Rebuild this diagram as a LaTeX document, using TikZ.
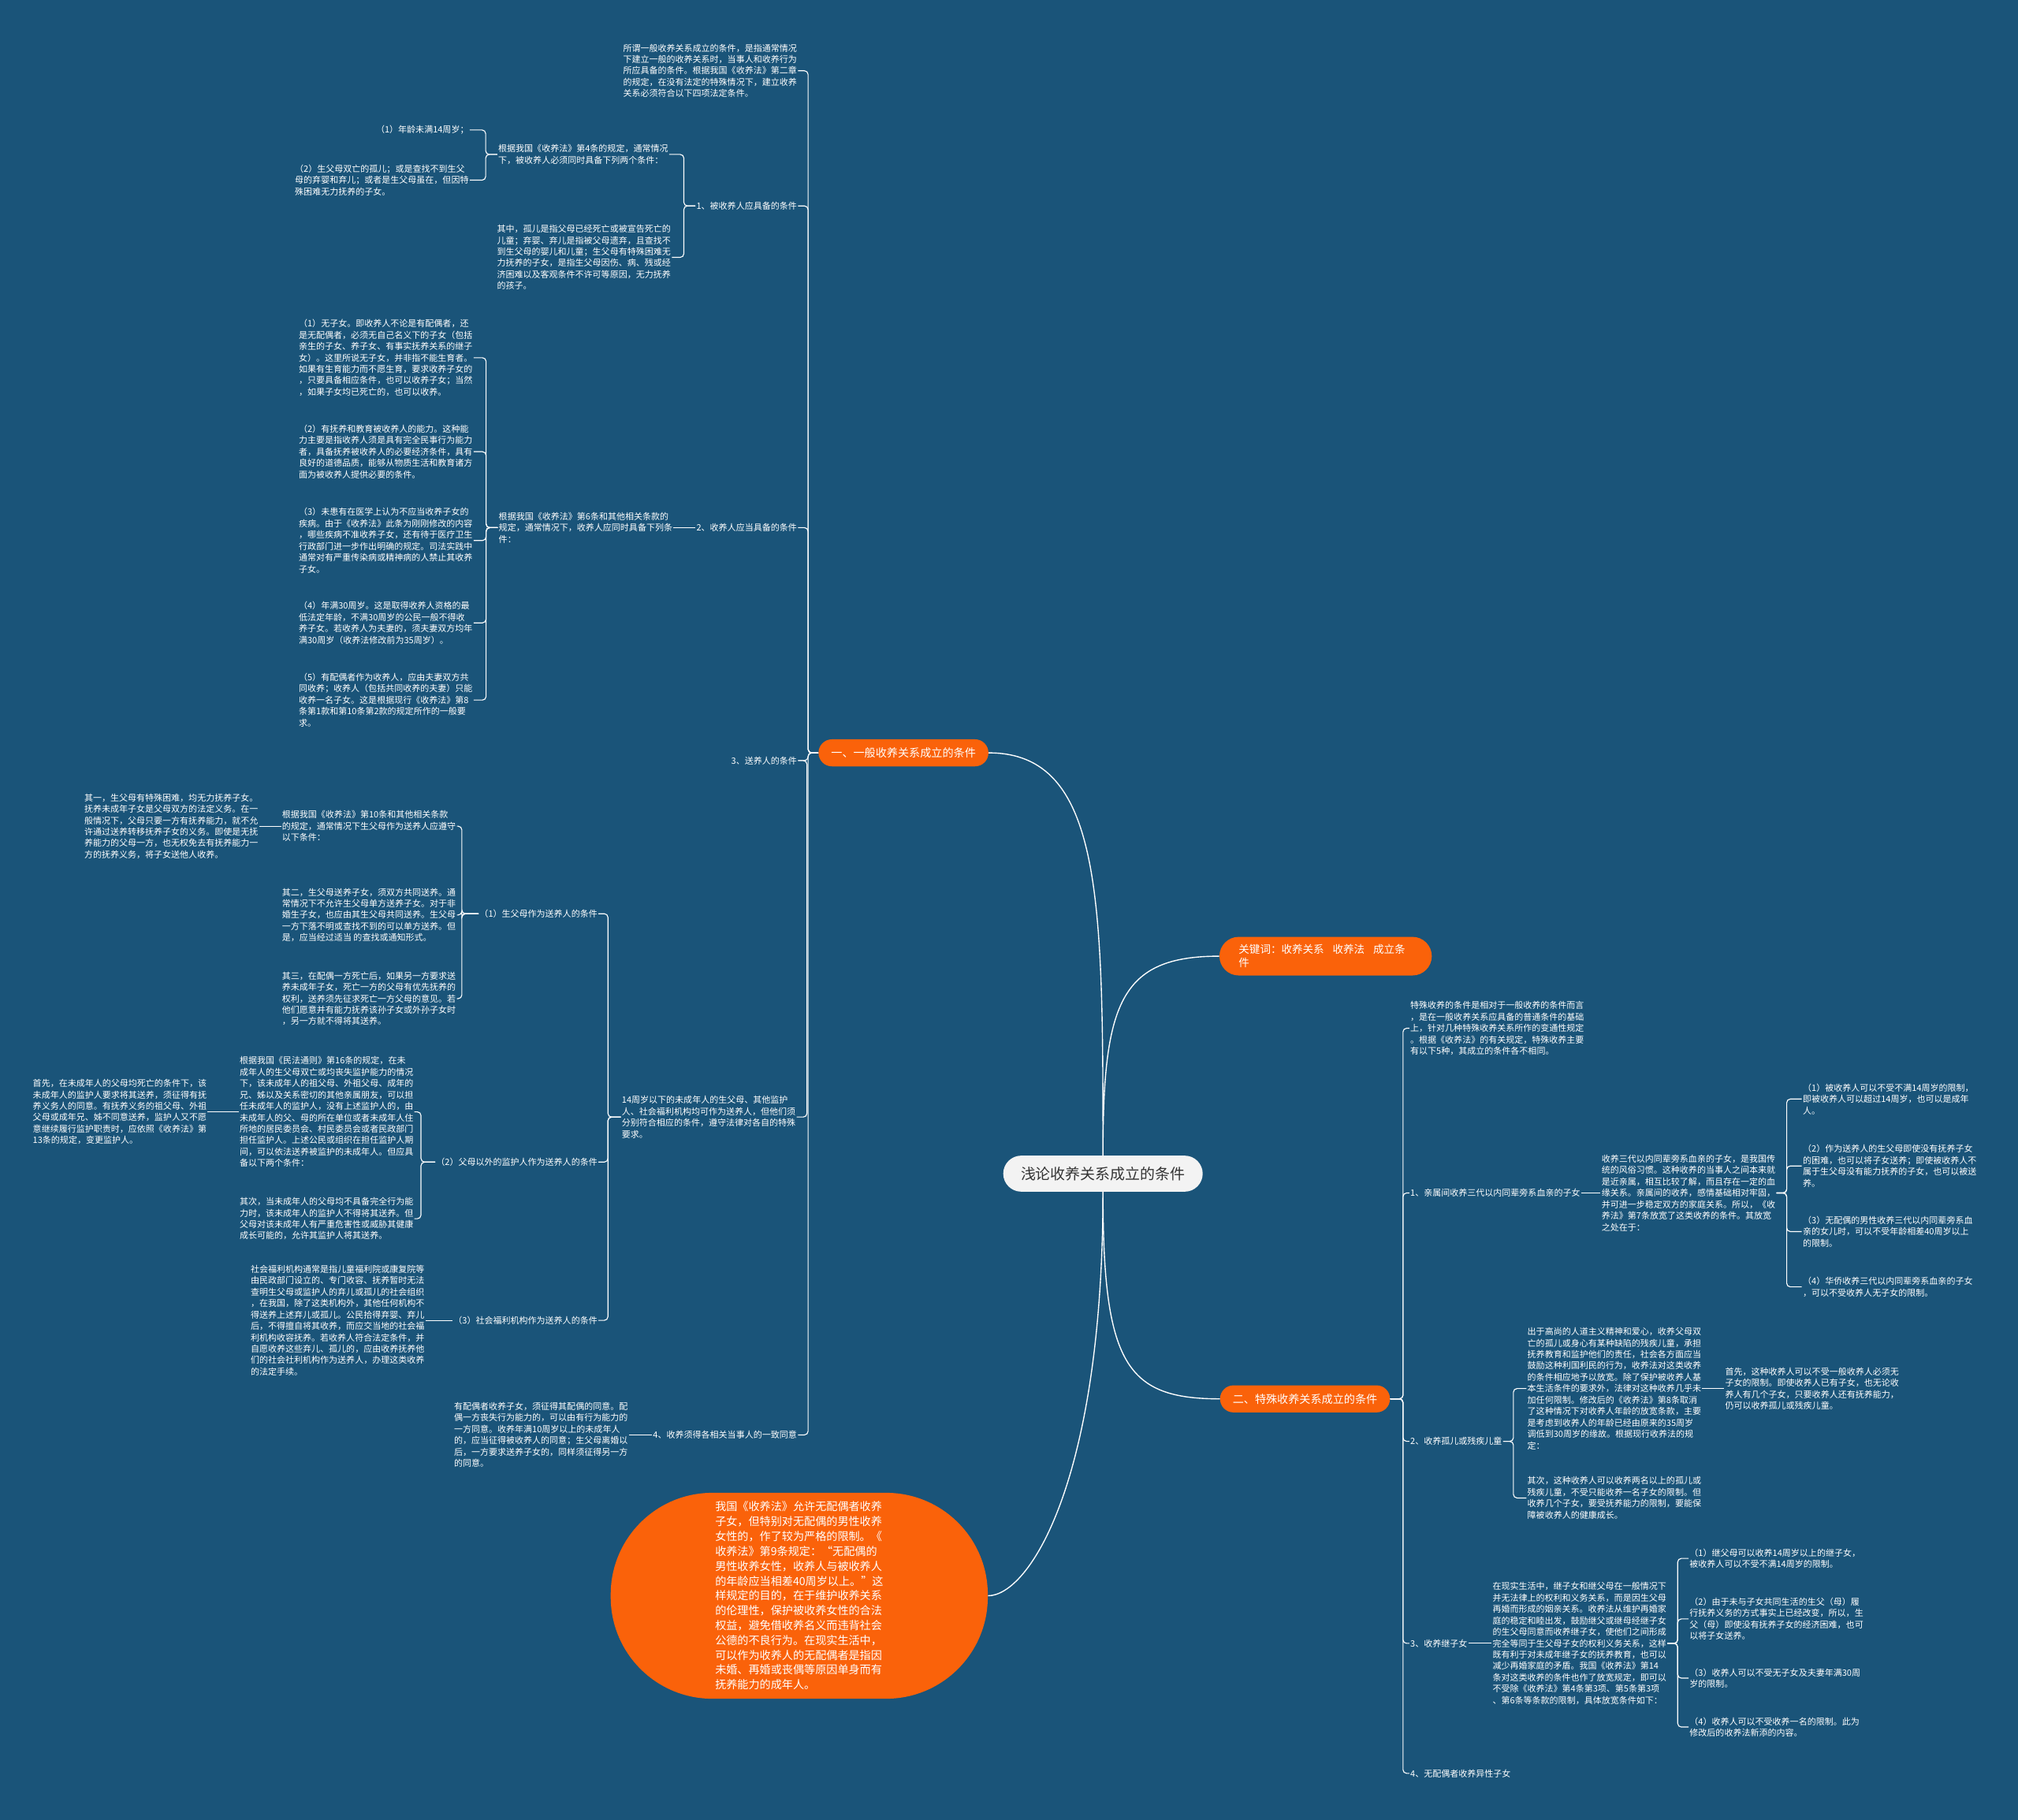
\documentclass[tikz,border=0pt]{standalone}
\usepackage{fontspec}
\setmainfont{Noto Sans CJK SC}
\usepackage{tikz}
\usetikzlibrary{positioning}
\definecolor{map-bg}{RGB}{26,84,121}
\definecolor{map-orange}{RGB}{250,98,10}
\definecolor{map-root}{RGB}{243,243,243}
\newcommand{\notefont}{\fontsize{9.6}{12.6}\selectfont}
\newcommand{\topicfont}{\fontsize{12.3}{15}\selectfont}

\begin{document}
\begin{tikzpicture}[
    x=0.05cm, y=-0.05cm,
    note/.style={align=left, text=white, font=\notefont, inner sep=1pt},
    lnote/.style={note, anchor=east},
    rnote/.style={note, anchor=west},
    topic/.style={rectangle, rounded corners=0.52cm, fill=map-orange, text=white, font=\topicfont, minimum width=6.6cm, minimum height=1.05cm},
    link/.style={draw=white, line width=1pt, rounded corners=4pt},
    branch/.style={draw=white, line width=1.2pt}
]

% 背景
\fill[map-bg] (0,0) rectangle (1568,1414);

% 中心与主分支
\node[rectangle, rounded corners=0.7cm, fill=map-root, text=black!80, font=\fontsize{16.5}{20}\selectfont, minimum width=7.75cm, minimum height=1.4cm] (root) at (857,912) {浅论收养关系成立的条件};
\node[topic] (general) at (702,585) {一、一般收养关系成立的条件};
\node[topic, minimum width=8.25cm, minimum height=1.5cm, rounded corners=0.75cm, text width=6.75cm, inner xsep=0.75cm, align=left, font=\fontsize{11.8}{14.5}\selectfont] (keywords) at (1030,743) {关键词：收养关系\hspace{0.8em}收养法\hspace{0.8em}成立条\\件};
\node[topic] (special) at (1014,1087) {二、特殊收养关系成立的条件};
\node[fill=map-orange, text=white, rounded corners=3.95cm, minimum width=14.65cm, minimum height=8cm, align=left, inner sep=0pt, font=\fontsize{12.3}{16.4}\selectfont] (bubble) at (621,1240) {我国《收养法》允许无配偶者收养\\子女，但特别对无配偶的男性收养\\女性的，作了较为严格的限制。《\\收养法》第9条规定：“无配偶的\\男性收养女性，收养人与被收养人\\的年龄应当相差40周岁以上。”这\\样规定的目的，在于维护收养关系\\的伦理性，保护被收养女性的合法\\权益，避免借收养名义而违背社会\\公德的不良行为。在现实生活中，\\可以作为收养人的无配偶者是指因\\未婚、再婚或丧偶等原因单身而有\\抚养能力的成年人。};

% 一般收养
\node[lnote] (g-intro) at (620,55) {所谓一般收养关系成立的条件，是指通常情况\\下建立一般的收养关系时，当事人和收养行为\\所应具备的条件。根据我国《收养法》第二章\\的规定，在没有法定的特殊情况下，建立收养\\关系必须符合以下四项法定条件。};
\node[lnote] (adoptee) at (620,160) {1、被收养人应具备的条件};
\node[lnote] (adoptee-a) at (520,120) {根据我国《收养法》第4条的规定，通常情况\\下，被收养人必须同时具备下列两个条件：};
\node[lnote] (adoptee-a1) at (365,101) {（1）年龄未满14周岁；};
\node[lnote] (adoptee-a2) at (365,140) {（2）生父母双亡的孤儿；或是查找不到生父\\母的弃婴和弃儿；或者是生父母虽在，但因特\\殊困难无力抚养的子女。};
\node[lnote] (adoptee-b) at (522,200) {其中，孤儿是指父母已经死亡或被宣告死亡的\\儿童；弃婴、弃儿是指被父母遗弃，且查找不\\到生父母的婴儿和儿童；生父母有特殊困难无\\力抚养的子女，是指生父母因伤、病、残或经\\济困难以及客观条件不许可等原因，无力抚养\\的孩子。};

\node[lnote] (adopter) at (620,410) {2、收养人应当具备的条件};
\node[lnote, left=0.85cm of adopter] (adopter-a) {根据我国《收养法》第6条和其他相关条款的\\规定，通常情况下，收养人应同时具备下列条\\件：};
\node[lnote] (adopter-1) at (368,278) {（1）无子女。即收养人不论是有配偶者，还\\是无配偶者，必须无自己名义下的子女（包括\\亲生的子女、养子女、有事实抚养关系的继子\\女）。这里所说无子女，并非指不能生育者。\\如果有生育能力而不愿生育，要求收养子女的\\，只要具备相应条件，也可以收养子女；当然\\，如果子女均已死亡的，也可以收养。};
\node[lnote] (adopter-2) at (368,351) {（2）有抚养和教育被收养人的能力。这种能\\力主要是指收养人须是具有完全民事行为能力\\者，具备抚养被收养人的必要经济条件，具有\\良好的道德品质，能够从物质生活和教育诸方\\面为被收养人提供必要的条件。};
\node[lnote] (adopter-3) at (368,420) {（3）未患有在医学上认为不应当收养子女的\\疾病。由于《收养法》此条为刚刚修改的内容\\，哪些疾病不准收养子女，还有待于医疗卫生\\行政部门进一步作出明确的规定。司法实践中\\通常对有严重传染病或精神病的人禁止其收养\\子女。};
\node[lnote] (adopter-4) at (368,484) {（4）年满30周岁。这是取得收养人资格的最\\低法定年龄，不满30周岁的公民一般不得收\\养子女。若收养人为夫妻的，须夫妻双方均年\\满30周岁（收养法修改前为35周岁）。};
\node[lnote] (adopter-5) at (368,544) {（5）有配偶者作为收养人，应由夫妻双方共\\同收养；收养人（包括共同收养的夫妻）只能\\收养一名子女。这是根据现行《收养法》第8\\条第1款和第10条第2款的规定所作的一般要\\求。};

\node[lnote] (sender) at (620,591) {3、送养人的条件};
\node[lnote] (sender-a) at (619,868) {14周岁以下的未成年人的生父母、其他监护\\人、社会福利机构均可作为送养人，但他们须\\分别符合相应的条件，遵守法律对各自的特殊\\要求。};
\node[lnote] (parents) at (465,710) {（1）生父母作为送养人的条件};
\node[lnote] (parents-a) at (355,642) {根据我国《收养法》第10条和其他相关条款\\的规定，通常情况下生父母作为送养人应遵守\\以下条件：};
\node[lnote, left=0.85cm of parents-a] (parents-a1) {其一，生父母有特殊困难，均无力抚养子女。\\抚养未成年子女是父母双方的法定义务。在一\\般情况下，父母只要一方有抚养能力，就不允\\许通过送养转移抚养子女的义务。即使是无抚\\养能力的父母一方，也无权免去有抚养能力一\\方的抚养义务，将子女送他人收养。};
\node[lnote] (parents-b) at (355,711) {其二，生父母送养子女，须双方共同送养。通\\常情况下不允许生父母单方送养子女。对于非\\婚生子女，也应由其生父母共同送养。生父母\\一方下落不明或查找不到的可以单方送养。但\\是，应当经过适当 的查找或通知形式。};
\node[lnote] (parents-c) at (355,776) {其三，在配偶一方死亡后，如果另一方要求送\\养未成年子女，死亡一方的父母有优先抚养的\\权利，送养须先征求死亡一方父母的意见。若\\他们愿意并有能力抚养该孙子女或外孙子女时\\，另一方就不得将其送养。};

\node[lnote] (guardian) at (465,903) {（2）父母以外的监护人作为送养人的条件};
\node[lnote] (guardian-a) at (322,864) {根据我国《民法通则》第16条的规定，在未\\成年人的生父母双亡或均丧失监护能力的情况\\下，该未成年人的祖父母、外祖父母、成年的\\兄、姊以及关系密切的其他亲属朋友，可以担\\任未成年人的监护人，没有上述监护人的，由\\未成年人的父、母的所在单位或者未成年人住\\所地的居民委员会、村民委员会或者民政部门\\担任监护人。上述公民或组织在担任监护人期\\间，可以依法送养被监护的未成年人。但应具\\备以下两个条件：};
\node[lnote, left=1.2cm of guardian-a] (guardian-a1) {首先，在未成年人的父母均死亡的条件下，该\\未成年人的监护人要求将其送养，须征得有抚\\养义务人的同意。有抚养义务的祖父母、外祖\\父母或成年兄、姊不同意送养，监护人又不愿\\意继续履行监护职责时，应依照《收养法》第\\13条的规定，变更监护人。};
\node[lnote] (guardian-b) at (322,947) {其次，当未成年人的父母均不具备完全行为能\\力时，该未成年人的监护人不得将其送养。但\\父母对该未成年人有严重危害性或威胁其健康\\成长可能的，允许其监护人将其送养。};

\node[lnote] (welfare) at (465,1026) {（3）社会福利机构作为送养人的条件};
\node[lnote, left=1.05cm of welfare] (welfare-a) {社会福利机构通常是指儿童福利院或康复院等\\由民政部门设立的、专门收容、抚养暂时无法\\查明生父母或监护人的弃儿或孤儿的社会组织\\，在我国，除了这类机构外，其他任何机构不\\得送养上述弃儿或孤儿。公民拾得弃婴、弃儿\\后，不得擅自将其收养，而应交当地的社会福\\利机构收容抚养。若收养人符合法定条件，并\\自愿收养这些弃儿、孤儿的，应由收养抚养他\\们的社会社利机构作为送养人，办理这类收养\\的法定手续。};

\node[lnote] (consent) at (620,1115) {4、收养须得各相关当事人的一致同意};
\node[lnote, left=0.9cm of consent] (consent-a) {有配偶者收养子女，须征得其配偶的同意。配\\偶一方丧失行为能力的，可以由有行为能力的\\一方同意。收养年满10周岁以上的未成年人\\的，应当征得被收养人的同意；生父母离婚以\\后，一方要求送养子女的，同样须征得另一方\\的同意。};

% 特殊收养
\node[rnote] (s-intro) at (1095,799) {特殊收养的条件是相对于一般收养的条件而言\\，是在一般收养关系应具备的普通条件的基础\\上，针对几种特殊收养关系所作的变通性规定\\。根据《收养法》的有关规定，特殊收养主要\\有以下5种，其成立的条件各不相同。};
\node[rnote] (kin) at (1095,927) {1、亲属间收养三代以内同辈旁系血亲的子女};
\node[rnote, right=0.75cm of kin] (kin-a) {收养三代以内同辈旁系血亲的子女，是我国传\\统的风俗习惯。这种收养的当事人之间本来就\\是近亲属，相互比较了解，而且存在一定的血\\缘关系。亲属间的收养，感情基础相对牢固，\\并可进一步稳定双方的家庭关系。所以，《收\\养法》第7条放宽了这类收养的条件。其放宽\\之处在于：};
\node[rnote] (kin-1) at (1400,854) {（1）被收养人可以不受不满14周岁的限制，\\即被收养人可以超过14周岁，也可以是成年\\人。};
\node[rnote] (kin-2) at (1400,906) {（2）作为送养人的生父母即使没有抚养子女\\的困难，也可以将子女送养；即使被收养人不\\属于生父母没有能力抚养的子女，也可以被送\\养。};
\node[rnote] (kin-3) at (1400,957) {（3）无配偶的男性收养三代以内同辈旁系血\\亲的女儿时，可以不受年龄相差40周岁以上\\的限制。};
\node[rnote] (kin-4) at (1400,1000) {（4）华侨收养三代以内同辈旁系血亲的子女\\，可以不受收养人无子女的限制。};

\node[rnote] (orphan) at (1095,1120) {2、收养孤儿或残疾儿童};
\node[rnote] (orphan-a) at (1186,1079) {出于高尚的人道主义精神和爱心，收养父母双\\亡的孤儿或身心有某种缺陷的残疾儿童，承担\\抚养教育和监护他们的责任，社会各方面应当\\鼓励这种利国利民的行为，收养法对这类收养\\的条件相应地予以放宽。除了保护被收养人基\\本生活条件的要求外，法律对这种收养几乎未\\加任何限制。修改后的《收养法》第8条取消\\了这种情况下对收养人年龄的放宽条款，主要\\是考虑到收养人的年龄已经由原来的35周岁\\调低到30周岁的缘故。根据现行收养法的规\\定：};
\node[rnote, right=0.85cm of orphan-a] (orphan-a1) {首先，这种收养人可以不受一般收养人必须无\\子女的限制。即使收养人已有子女，也无论收\\养人有几个子女，只要收养人还有抚养能力，\\仍可以收养孤儿或残疾儿童。};
\node[rnote] (orphan-b) at (1186,1164) {其次，这种收养人可以收养两名以上的孤儿或\\残疾儿童，不受只能收养一名子女的限制。但\\收养几个子女，要受抚养能力的限制，要能保\\障被收养人的健康成长。};

\node[rnote] (step) at (1095,1277) {3、收养继子女};
\node[rnote, right=0.9cm of step] (step-a) {在现实生活中，继子女和继父母在一般情况下\\并无法律上的权利和义务关系，而是因生父母\\再婚而形成的姻亲关系。收养法从维护再婚家\\庭的稳定和睦出发，鼓励继父或继母经继子女\\的生父母同意而收养继子女，使他们之间形成\\完全等同于生父母子女的权利义务关系，这样\\既有利于对未成年继子女的抚养教育，也可以\\减少再婚家庭的矛盾。我国《收养法》第14\\条对这类收养的条件也作了放宽规定，即可以\\不受除《收养法》第4条第3项、第5条第3项\\、第6条等条款的限制，具体放宽条件如下：};
\node[rnote] (step-1) at (1312,1211) {（1）继父母可以收养14周岁以上的继子女，\\被收养人可以不受不满14周岁的限制。};
\node[rnote] (step-2) at (1312,1258) {（2）由于未与子女共同生活的生父（母）履\\行抚养义务的方式事实上已经改变，所以，生\\父（母）即使没有抚养子女的经济困难，也可\\以将子女送养。};
\node[rnote] (step-3) at (1312,1304) {（3）收养人可以不受无子女及夫妻年满30周\\岁的限制。};
\node[rnote] (step-4) at (1312,1342) {（4）收养人可以不受收养一名的限制。此为\\修改后的收养法新添的内容。};

\node[rnote] (single) at (1095,1378) {4、无配偶者收养异性子女};

% 主分支连线
\draw[branch] (root.north) .. controls (857,700) and (857,585) .. (general.east);
\draw[branch] (root.north) .. controls (857,780) and (870,743) .. (keywords.west);
\draw[branch] (root.south) .. controls (857,1060) and (875,1087) .. (special.west);
\draw[branch] (root.south) .. controls (857,1150) and (800,1240) .. (bubble.east);

% 左侧连线
\foreach \n in {g-intro, adoptee, adopter, sender, consent}
  \draw[link] (general.west) -- ++(-8,0) |- (\n.east);
\draw[link] (sender.east) -- ++(7,0) |- (sender-a.east);
\foreach \n in {adoptee-a, adoptee-b}
  \draw[link] (adoptee.west) -- ++(-9,0) |- (\n.east);
\foreach \n in {adoptee-a1, adoptee-a2}
  \draw[link] (adoptee-a.west) -- ++(-9,0) |- (\n.east);
\draw[link] (adopter.west) -- (adopter-a.east);
\foreach \i in {1,...,5}
  \draw[link] (adopter-a.west) -- ++(-9,0) |- (adopter-\i.east);
\foreach \n in {parents, guardian, welfare}
  \draw[link] (sender-a.west) -- ++(-10,0) |- (\n.east);
\foreach \n in {parents-a, parents-b, parents-c}
  \draw[link] (parents.west) -- ++(-13,0) |- (\n.east);
\draw[link] (parents-a.west) -- (parents-a1.east);
\foreach \n in {guardian-a, guardian-b}
  \draw[link] (guardian.west) -- ++(-11,0) |- (\n.east);
\draw[link] (guardian-a.west) -- (guardian-a1.east);
\draw[link] (welfare.west) -- (welfare-a.east);
\draw[link] (consent.west) -- (consent-a.east);

% 右侧连线
\foreach \n in {s-intro, kin, orphan, step, single}
  \draw[link] (special.east) -- ++(10,0) |- (\n.west);
\draw[link] (kin.east) -- (kin-a.west);
\foreach \i in {1,...,4}
  \draw[link] (kin-a.west -| kin-a.east) -- ++(8,0) |- (kin-\i.west);
\foreach \n in {orphan-a, orphan-b}
  \draw[link] (orphan.east) -- ++(8,0) |- (\n.west);
\draw[link] (orphan-a.east) -- (orphan-a1.west);
\draw[link] (step.east) -- (step-a.west);
\foreach \i in {1,...,4}
  \draw[link] (step-a.east) -- ++(8,0) |- (step-\i.west);

\end{tikzpicture}
\end{document}
